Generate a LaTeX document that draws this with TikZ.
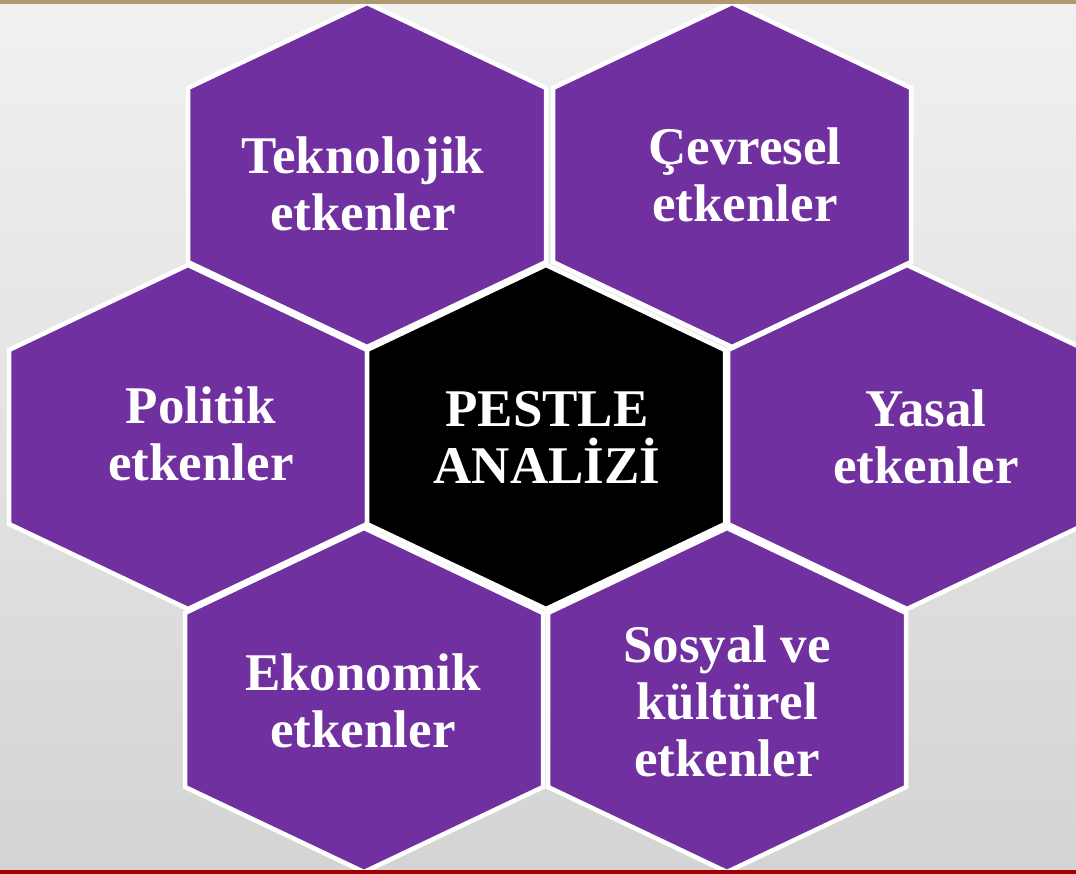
\documentclass[tikz,border=0pt]{standalone}
\usepackage{fontspec}
\setmainfont{Liberation Serif}
\definecolor{hexpurple}{HTML}{7030A0}
\definecolor{bgtop}{HTML}{F1F1F1}
\definecolor{bgbot}{HTML}{D4D4D4}
\definecolor{striptan}{HTML}{B09A70}
\definecolor{stripred}{HTML}{A00000}
\tikzset{
  hexa/.style={fill=hexpurple, draw=white, line width=4.5pt, line join=miter},
  hexcenter/.style={hexa, fill=black},
  lbl/.style={text=white, font=\bfseries\fontsize{53}{57}\selectfont, align=center, inner sep=0pt},
  hexagon/.pic={\path[pic actions] (-179,-87) -- (0,-172) -- (179,-87) -- (179,87) -- (0,172) -- (-179,87) -- cycle;}
}
\begin{document}
\begin{tikzpicture}[x=1pt,y=-1pt]
\useasboundingbox (0,0) rectangle (1076,874);
\clip (0,0) rectangle (1076,874);
\shade[top color=bgtop, bottom color=bgbot] (0,0) rectangle (1076,874);
% hexagons
\pic[hexa] at (367,175) {hexagon};
\pic[hexa] at (732,175) {hexagon};
\pic[hexa] at (188,437) {hexagon};
\pic[hexa] at (907,437) {hexagon};
\pic[hexa] at (364,700) {hexagon};
\pic[hexa] at (727,700) {hexagon};
\pic[hexcenter] at (546,437) {hexagon};
% strips
\fill[striptan] (0,0) rectangle (1076,4);
\fill[stripred] (0,870) rectangle (1076,874);
% labels
\node[lbl] (tek) at (363,184) {Teknolojik\\etkenler};
\node[lbl] (cev) at (745,175) {Çevresel\\etkenler};
\node[lbl] (pol) at (201,434) {Politik\\etkenler};
\node[lbl] (pes) at (547,437) {PESTLE\\ANALİZİ};
\node[lbl] (yas) at (926,437) {Yasal\\etkenler};
\node[lbl] (eko) at (363,701) {Ekonomik\\etkenler};
\node[lbl] (sos) at (727,701) {Sosyal ve\\kültürel\\etkenler};
\end{tikzpicture}
\end{document}
